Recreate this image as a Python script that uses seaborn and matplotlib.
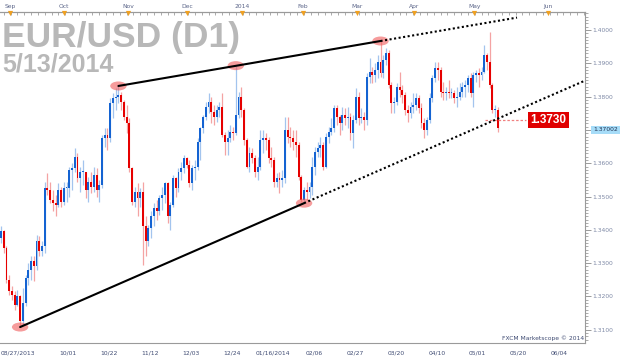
import numpy as np
import pandas as pd
import matplotlib.pyplot as plt
import seaborn as sns
import matplotlib.transforms as mtransforms
from matplotlib.patches import Ellipse
from matplotlib.ticker import FixedLocator, MultipleLocator

sns.set_style("white")
plt.rcParams['font.family'] = ['DejaVu Sans']

# daily EUR/USD candles, 08/27/2013 .. 05/13/2014
first_open = 1.3375
closes = [
    1.3395, 1.3345, 1.3250, 1.3215, 1.3205, 1.3175, 1.3200, 1.3125, 1.3180, 1.3255,
    1.3280, 1.3305, 1.3290, 1.3365, 1.3335, 1.3350, 1.3525, 1.3520, 1.3490, 1.3480,
    1.3475, 1.3520, 1.3485, 1.3525, 1.3525, 1.3580, 1.3585, 1.3620, 1.3555, 1.3575,
    1.3575, 1.3520, 1.3545, 1.3530, 1.3565, 1.3520, 1.3535, 1.3675, 1.3685, 1.3675,
    1.3780, 1.3795, 1.3800, 1.3805, 1.3785, 1.3740, 1.3720, 1.3585, 1.3485, 1.3515,
    1.3495, 1.3515, 1.3410, 1.3365, 1.3405, 1.3440, 1.3465, 1.3455, 1.3495, 1.3505,
    1.3540, 1.3440, 1.3475, 1.3555, 1.3525, 1.3575, 1.3585, 1.3615, 1.3595, 1.3540,
    1.3585, 1.3590, 1.3665, 1.3705, 1.3740, 1.3770, 1.3785, 1.3755, 1.3740, 1.3760,
    1.3770, 1.3685, 1.3665, 1.3675, 1.3695, 1.3690, 1.3745, 1.3800, 1.3760, 1.3670,
    1.3590, 1.3630, 1.3615, 1.3575, 1.3590, 1.3670, 1.3675, 1.3670, 1.3615, 1.3610,
    1.3545, 1.3555, 1.3550, 1.3555, 1.3700, 1.3680, 1.3675, 1.3665, 1.3655, 1.3560,
    1.3490, 1.3520, 1.3515, 1.3530, 1.3590, 1.3635, 1.3645, 1.3655, 1.3590, 1.3680,
    1.3695, 1.3705, 1.3765, 1.3740, 1.3720, 1.3745, 1.3735, 1.3740, 1.3690, 1.3730,
    1.3800, 1.3735, 1.3740, 1.3730, 1.3860, 1.3875, 1.3865, 1.3880, 1.3905, 1.3870,
    1.3910, 1.3930, 1.3835, 1.3780, 1.3785, 1.3830, 1.3820, 1.3805, 1.3760, 1.3750,
    1.3770, 1.3775, 1.3795, 1.3765, 1.3720, 1.3700, 1.3730, 1.3795, 1.3855, 1.3885,
    1.3880, 1.3815, 1.3810, 1.3815, 1.3810, 1.3810, 1.3795, 1.3800, 1.3815, 1.3830,
    1.3835, 1.3855, 1.3810, 1.3865, 1.3870, 1.3865, 1.3875, 1.3925, 1.3905, 1.3835,
    1.3760, 1.3760, 1.3705,
]
highs = [
    1.3410, 1.3400, 1.3350, 1.3265, 1.3230, 1.3215, 1.3220, 1.3205, 1.3225, 1.3265,
    1.3300, 1.3320, 1.3320, 1.3385, 1.3380, 1.3365, 1.3545, 1.3570, 1.3545, 1.3520,
    1.3505, 1.3540, 1.3530, 1.3545, 1.3545, 1.3590, 1.3600, 1.3645, 1.3630, 1.3590,
    1.3610, 1.3575, 1.3560, 1.3575, 1.3590, 1.3585, 1.3550, 1.3685, 1.3705, 1.3705,
    1.3795, 1.3810, 1.3825, 1.3832, 1.3815, 1.3790, 1.3775, 1.3735, 1.3590, 1.3530,
    1.3540, 1.3525, 1.3545, 1.3440, 1.3415, 1.3455, 1.3480, 1.3490, 1.3505, 1.3530,
    1.3545, 1.3545, 1.3485, 1.3565, 1.3560, 1.3585, 1.3605, 1.3625, 1.3620, 1.3610,
    1.3595, 1.3610, 1.3675, 1.3710, 1.3745, 1.3785, 1.3810, 1.3800, 1.3775, 1.3775,
    1.3785, 1.3810, 1.3695, 1.3700, 1.3715, 1.3710, 1.3893, 1.3815, 1.3830, 1.3765,
    1.3675, 1.3650, 1.3645, 1.3625, 1.3620, 1.3700, 1.3700, 1.3690, 1.3680, 1.3650,
    1.3620, 1.3570, 1.3575, 1.3580, 1.3740, 1.3740, 1.3710, 1.3700, 1.3700, 1.3665,
    1.3565, 1.3530, 1.3545, 1.3545, 1.3620, 1.3650, 1.3665, 1.3680, 1.3665, 1.3690,
    1.3710, 1.3735, 1.3775, 1.3775, 1.3745, 1.3770, 1.3765, 1.3770, 1.3750, 1.3745,
    1.3825, 1.3815, 1.3765, 1.3755, 1.3870, 1.3915, 1.3890, 1.3900, 1.3925, 1.3967,
    1.3925, 1.3945, 1.3940, 1.3845, 1.3800, 1.3840, 1.3875, 1.3835, 1.3815, 1.3775,
    1.3785, 1.3810, 1.3810, 1.3805, 1.3780, 1.3735, 1.3740, 1.3810, 1.3865, 1.3905,
    1.3905, 1.3890, 1.3845, 1.3830, 1.3850, 1.3825, 1.3820, 1.3830, 1.3840, 1.3845,
    1.3850, 1.3865, 1.3870, 1.3875, 1.3880, 1.3885, 1.3890, 1.3955, 1.3930, 1.3993,
    1.3840, 1.3775, 1.3770,
]
lows = [
    1.3360, 1.3330, 1.3240, 1.3205, 1.3190, 1.3160, 1.3170, 1.3108, 1.3115, 1.3170,
    1.3235, 1.3250, 1.3245, 1.3280, 1.3320, 1.3320, 1.3330, 1.3505, 1.3480, 1.3455,
    1.3440, 1.3470, 1.3470, 1.3475, 1.3485, 1.3500, 1.3520, 1.3575, 1.3545, 1.3515,
    1.3535, 1.3495, 1.3485, 1.3510, 1.3515, 1.3500, 1.3485, 1.3525, 1.3650, 1.3640,
    1.3665, 1.3735, 1.3760, 1.3780, 1.3760, 1.3730, 1.3690, 1.3575, 1.3475, 1.3470,
    1.3440, 1.3470, 1.3295, 1.3320, 1.3350, 1.3375, 1.3410, 1.3430, 1.3445, 1.3460,
    1.3480, 1.3420, 1.3400, 1.3470, 1.3500, 1.3515, 1.3550, 1.3570, 1.3585, 1.3530,
    1.3520, 1.3550, 1.3580, 1.3610, 1.3690, 1.3730, 1.3750, 1.3720, 1.3715, 1.3725,
    1.3740, 1.3680, 1.3625, 1.3625, 1.3665, 1.3670, 1.3685, 1.3735, 1.3740, 1.3655,
    1.3585, 1.3575, 1.3600, 1.3560, 1.3550, 1.3580, 1.3630, 1.3640, 1.3600, 1.3590,
    1.3530, 1.3530, 1.3510, 1.3530, 1.3540, 1.3660, 1.3650, 1.3640, 1.3620, 1.3550,
    1.3485, 1.3480, 1.3490, 1.3495, 1.3505, 1.3565, 1.3620, 1.3620, 1.3580, 1.3585,
    1.3660, 1.3685, 1.3695, 1.3715, 1.3685, 1.3700, 1.3715, 1.3705, 1.3670, 1.3645,
    1.3720, 1.3715, 1.3720, 1.3700, 1.3715, 1.3840, 1.3840, 1.3845, 1.3855, 1.3860,
    1.3855, 1.3895, 1.3825, 1.3750, 1.3750, 1.3775, 1.3800, 1.3780, 1.3745, 1.3725,
    1.3735, 1.3750, 1.3760, 1.3750, 1.3705, 1.3675, 1.3685, 1.3720, 1.3785, 1.3845,
    1.3850, 1.3800, 1.3790, 1.3790, 1.3795, 1.3795, 1.3780, 1.3770, 1.3790, 1.3800,
    1.3800, 1.3815, 1.3800, 1.3770, 1.3845, 1.3830, 1.3850, 1.3870, 1.3880, 1.3825,
    1.3750, 1.3740, 1.3694,
]

# candles touched by the wedge lines
low_touch = [7, 111]
high_touch = [43, 86, 139]
lower_end = 214
upper_end = 189

last_price = 1.3730
bid_price = 1.37002

price_ticks = [1.31, 1.32, 1.33, 1.34, 1.35, 1.36, 1.37, 1.38, 1.39, 1.40]
month_names = ['Sep', 'Oct', 'Nov', 'Dec', '2014', 'Feb', 'Mar', 'Apr', 'May', 'Jun']
month_pos = [3.3, 23.1, 46.5, 68.1, 88.3, 110.6, 130.4, 151.3, 173.3, 200.4]
date_labels = ['08/27/2013', '', '10/01', '10/22', '11/12', '12/03', '12/24', '01/16/2014',
               '02/06', '02/27', '03/20', '04/10', '05/01', '05/20', '06/04']
date_pos = [0] + [9.6 + 15 * k for k in range(14)]

df = pd.DataFrame({'close': closes, 'high': highs, 'low': lows})
df['open'] = [first_open] + closes[:-1]
df['i'] = np.arange(len(df))
up = df['close'] >= df['open']
body_col = np.where(up, '#1463d2', '#e60000')
wick_col = np.where(up, '#a3c4ee', '#f4a3a3')

fig = plt.figure(figsize=(6.23, 3.62), dpi=100)
ax = fig.add_axes([0, 19 / 362, 585 / 623, 331 / 362])

# candles
ax.vlines(df['i'], df['low'], df['high'], colors=wick_col, lw=0.9, zorder=2)
body_bottom = np.minimum(df['open'], df['close'])
body_h = np.maximum((df['close'] - df['open']).abs(), 0.0003)
ax.bar(df['i'], body_h, bottom=body_bottom, width=0.7, color=body_col, linewidth=0, zorder=3)

# wedge lines
x0, x1 = low_touch
slope = (lows[x1] - lows[x0]) / (x1 - x0)
sns.lineplot(x=[x0, x1], y=[lows[x0], lows[x1]], color='black', lw=1.5, ax=ax, zorder=6)
sns.lineplot(x=[x1, lower_end], y=[lows[x1], lows[x1] + slope * (lower_end - x1)],
             color='black', lw=1.5, linestyle=(0, (1, 1.2)), ax=ax, zorder=6)
h0, h1 = high_touch[0], high_touch[-1]
slope_h = (highs[h1] - highs[h0]) / (h1 - h0)
sns.lineplot(x=[h0, h1], y=[highs[h0], highs[h1]], color='black', lw=1.5, ax=ax, zorder=6)
sns.lineplot(x=[h1, upper_end], y=[highs[h1], highs[h1] + slope_h * (upper_end - h1)],
             color='black', lw=1.5, linestyle=(0, (1, 1.2)), ax=ax, zorder=6)

for i in low_touch:
    ax.add_patch(Ellipse((i, lows[i]), 6.0, 0.0027, color='#f05a5a', alpha=0.6, lw=0, zorder=5))
for i in high_touch:
    ax.add_patch(Ellipse((i, highs[i]), 6.0, 0.0027, color='#f05a5a', alpha=0.6, lw=0, zorder=5))

# last price marker
ax.hlines(last_price, 177.3, 192.3, colors='#f08080', linestyles=(0, (2, 1.5)), lw=0.9, zorder=4)
ax.text(200.4, last_price, f'{last_price:.4f}', ha='center', va='center', color='white',
        fontsize=8.5, fontweight='bold', family='Liberation Sans', zorder=8,
        bbox=dict(boxstyle='square,pad=0.2', fc='#e00000', ec='none'))
blend = mtransforms.blended_transform_factory(ax.transAxes, ax.transData)
ax.text(1.0 + 8 / 585, bid_price, f'{bid_price:.5f}', transform=blend, ha='left', va='center',
        fontsize=4.3, color='#203050', clip_on=False, zorder=10,
        bbox=dict(boxstyle='square,pad=0.3', fc='#a6dcf8', ec='none'))

ax.set_xlim(-0.37, 213.9)
ax.set_ylim(1.30601, 1.40541)

# right price axis (the bid box covers the 1.3700 label)
ax.yaxis.tick_right()
ax.set_yticks(price_ticks)
ax.set_yticklabels(['' if abs(v - bid_price) < 0.003 else f'{v:.4f}' for v in price_ticks])
ax.yaxis.set_minor_locator(MultipleLocator(0.001))
ax.tick_params(axis='y', which='major', direction='out', length=4, width=0.6, color='#8a8a8a',
               labelsize=4.3, labelcolor='#7d88a5', pad=1.5)
ax.tick_params(axis='y', which='minor', direction='out', length=2, width=0.5, color='#8a8a8a')

# bottom date axis
ax.set_xticks(date_pos)
ax.set_xticklabels(date_labels)
ax.get_xticklabels()[0].set_horizontalalignment('left')
ax.xaxis.set_minor_locator(FixedLocator(np.arange(2.1, 214, 2.5)))
ax.tick_params(axis='x', which='major', direction='inout', length=7, width=0.6, color='#8a8a8a',
               labelsize=4.3, labelcolor='#3e4a72', pad=2)
ax.tick_params(axis='x', which='minor', direction='out', length=2, width=0.5, color='#8a8a8a')

# top month ruler
top = ax.secondary_xaxis('top')
top.set_xticks(month_pos)
top.set_xticklabels(month_names)
top.xaxis.set_minor_locator(FixedLocator(np.arange(1.0, 214, 2.5)))
top.tick_params(which='major', length=0, pad=2, labelsize=4.3, labelcolor='#5a6488')
top.tick_params(which='minor', direction='in', length=2.5, width=0.5, color='#8a8a8a')
ax.scatter(month_pos, [1 - 1 / 331] * len(month_pos), transform=ax.get_xaxis_transform(),
           marker='v', s=14, color='#f0a020', clip_on=False, zorder=10, linewidths=0)

for side in ['top', 'bottom', 'right']:
    ax.spines[side].set_color('#9a9a9a')
    ax.spines[side].set_linewidth(0.8)
ax.spines['left'].set_visible(False)
for sp in top.spines.values():
    sp.set_color('#9a9a9a')
    sp.set_linewidth(0.8)

ax.text(0.998, 0.006, 'FXCM Marketscope \u00a9 2014', transform=ax.transAxes, ha='right', va='bottom',
        fontsize=4.3, color='#3e4a72')

fig.text(2 / 623, (362 - 47) / 362, 'EUR/USD (D1)', fontsize=25.5, fontweight='bold',
         color='#b8b8b8', family='Liberation Sans', va='baseline')
fig.text(2 / 623, (362 - 71) / 362, '5/13/2014', fontsize=18, fontweight='bold',
         color='#b8b8b8', family='Liberation Sans', va='baseline')

fig.savefig('out.png', dpi=100)
